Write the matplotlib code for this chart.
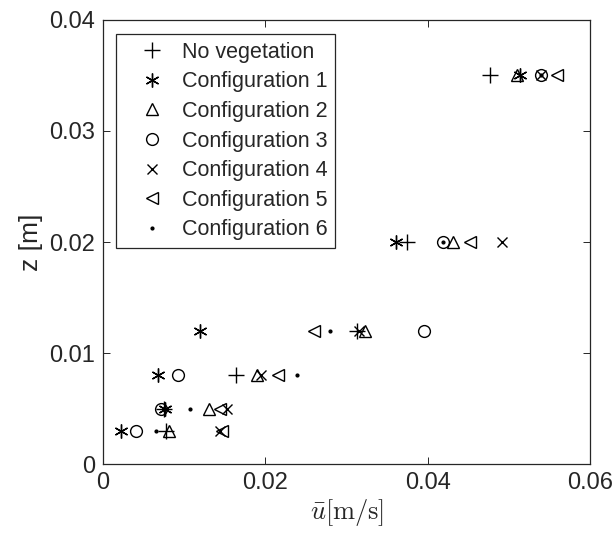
import numpy as np
import matplotlib.pyplot as plt

plt.rcParams['font.family'] = ['Liberation Sans', 'DejaVu Sans']
plt.rcParams['mathtext.fontset'] = 'cm'

# heights [m]
z = [0.003, 0.005, 0.008, 0.012, 0.02, 0.035]

# mean velocity at each height [m/s]
u_none = [0.0077, 0.0075, 0.0164, 0.0313, 0.0375, 0.0477]
u_c1 = [0.0022, 0.0076, 0.0068, 0.0119, 0.0361, 0.0514]
u_c2 = [0.0081, 0.0130, 0.0189, 0.0323, 0.0431, 0.0510]
u_c3 = [0.0041, 0.0071, 0.0092, 0.0395, 0.0419, 0.0539]
u_c4 = [0.0144, 0.0152, 0.0195, 0.0315, 0.0491, 0.0539]
u_c5 = [0.0147, 0.0144, 0.0215, 0.0260, 0.0452, 0.0559]
u_c6 = [0.0065, 0.0107, 0.0239, 0.0279, 0.0419, 0.0539]

labels = ['No vegetation', 'Configuration 1', 'Configuration 2', 'Configuration 3',
          'Configuration 4', 'Configuration 5', 'Configuration 6']
series = [u_none, u_c1, u_c2, u_c3, u_c4, u_c5, u_c6]
markers = ['+', (6, 2, 0), '^', 'o', 'x', '<', '.']
sizes = [11, 10, 8.5, 8.5, 7, 8.5, 4]

fig = plt.figure(figsize=(6.14, 5.39), dpi=100)
ax = fig.add_axes([0.168, 0.139, 0.793, 0.824])

for u, m, s, lab in zip(series, markers, sizes, labels):
    ax.plot(u, z, linestyle='none', marker=m, markersize=s, color='black',
            markerfacecolor='none' if m != '.' else 'black',
            markeredgewidth=1.0, label=lab)

ax.set_xlim(0, 0.06)
ax.set_ylim(0, 0.04)
ax.set_xticks([0, 0.02, 0.04, 0.06])
ax.set_yticks([0, 0.01, 0.02, 0.03, 0.04])
ax.set_xticklabels(['0', '0.02', '0.04', '0.06'])
ax.set_yticklabels(['0', '0.01', '0.02', '0.03', '0.04'])
ax.tick_params(direction='in', top=True, right=True, labelsize=17,
               colors='#262626', length=5, width=0.7, pad=6)
for sp in ax.spines.values():
    sp.set_color('#262626')
    sp.set_linewidth(0.9)

ax.set_xlabel(r'$\bar{u}[\mathrm{m/s}]$', fontsize=19, color='#262626', labelpad=2)
ax.set_ylabel('z [m]', fontsize=19, color='#262626', labelpad=4)

leg = ax.legend(loc='upper left', bbox_to_anchor=(0.027, 0.968), borderaxespad=0,
                fontsize=15.5, frameon=True, fancybox=False, edgecolor='#262626',
                framealpha=1, handletextpad=0.05, borderpad=0.35, labelspacing=0.4,
                handlelength=2.65)
leg.get_frame().set_linewidth(0.9)
for t in leg.get_texts():
    t.set_color('#262626')

plt.savefig('out.png', dpi=100)
